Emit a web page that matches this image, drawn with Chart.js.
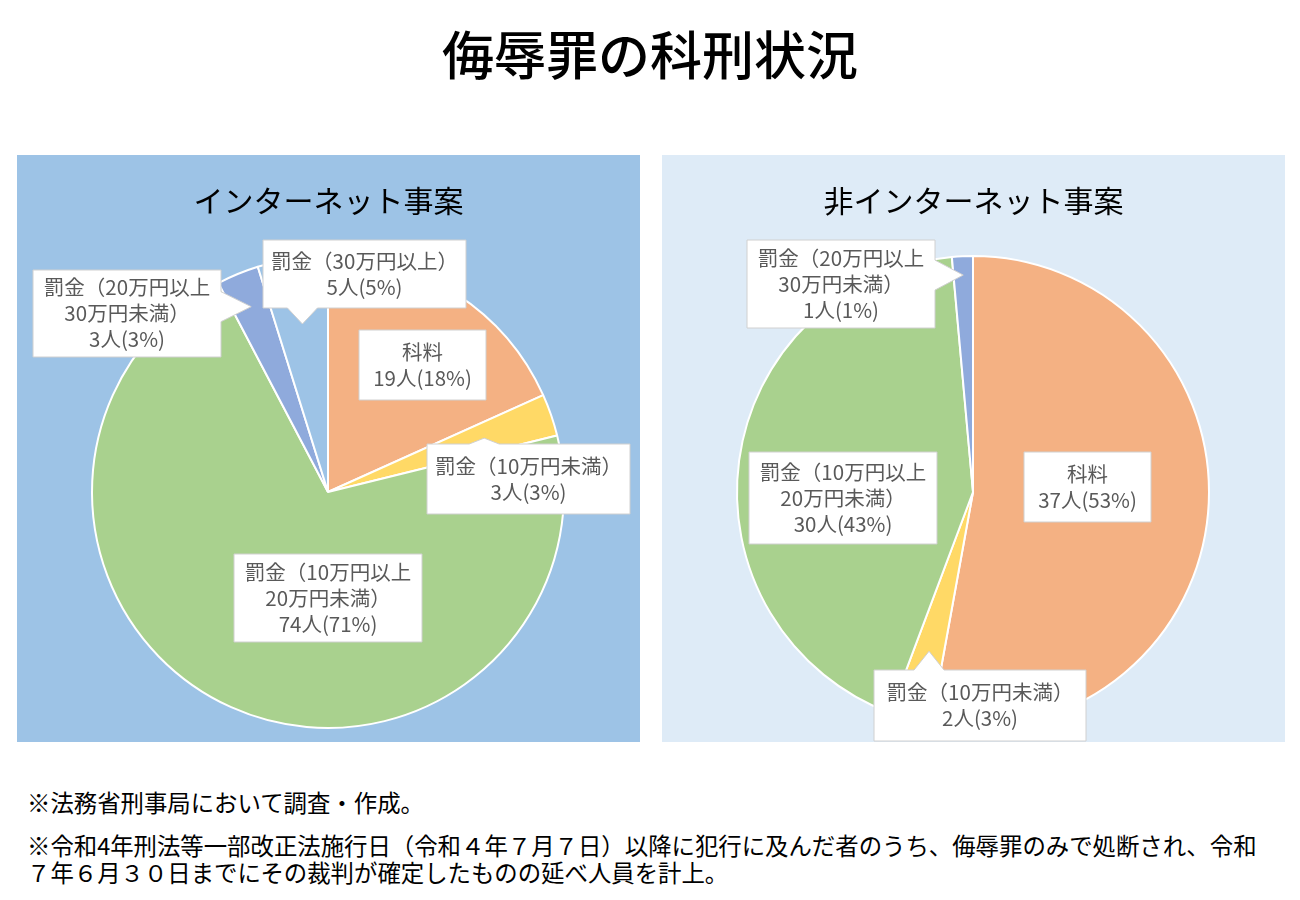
<!DOCTYPE html>
<html lang="ja">
<head>
<meta charset="utf-8">
<script src="https://cdn.jsdelivr.net/npm/chart.js@4/dist/chart.umd.min.js"></script>
<style>
  html, body { margin: 0; padding: 0; background: #fff; }
  body { width: 1300px; height: 900px; position: relative; overflow: hidden;
         font-family: "Noto Sans CJK JP", "Noto Sans", sans-serif; color: #000; }
  #title { position: absolute; left: 0; width: 1300px; top: 18px; text-align: center;
           font-size: 52px; font-weight: 500; line-height: 70px; }
  .panel { position: absolute; top: 155px; width: 623px; height: 587px; }
  #p1 { left: 17px; background: #9DC3E6; }
  #p2 { left: 662px; background: #DEEBF7; }
  .ptitle { position: absolute; left: 0; width: 623px; top: 22px; text-align: center;
            font-size: 30px; font-weight: 400; line-height: 44px; }
  .panel canvas { position: absolute; left: 0; top: 0; }
  .note { position: absolute; left: 27px; font-size: 23.4px; line-height: 27px; white-space: nowrap; font-weight: 400; }
</style>
</head>
<body>
<div id="title">侮辱罪の科刑状況</div>
<div class="panel" id="p1"><canvas id="c1" width="623" height="587"></canvas><div class="ptitle">インターネット事案</div></div>
<div class="panel" id="p2"><canvas id="c2" width="623" height="587"></canvas><div class="ptitle">非インターネット事案</div></div>
<div class="note" style="top:789px">※法務省刑事局において調査・作成。</div>
<div class="note" style="top:832px">※令和4年刑法等一部改正法施行日（令和４年７月７日）以降に犯行に及んだ者のうち、侮辱罪のみで処断され、令和<br>７年６月３０日までにその裁判が確定したものの延べ人員を計上。</div>
<script>
// ---- data ----
const categories = [
  ["科料"],
  ["罰金（10万円未満）"],
  ["罰金（10万円以上", "20万円未満）"],
  ["罰金（20万円以上", "30万円未満）"],
  ["罰金（30万円以上）"]
];
const internetCounts = [19, 3, 74, 3, 5];
const nonInternetCounts = [37, 2, 30, 1, 0];
const chartTitles = ["インターネット事案", "非インターネット事案"];
const unitLabel = "人";

// ---- styles ----
const sliceColors = ["#F4B183", "#FFD966", "#A9D18E", "#8FAADC", "#9DC3E6"];

// callout layout: box centre offset from pie centre (px), box size, pointer tip as fraction of radius
const layoutInternet = [
  { i: 4, dx: 36.5, dy: -218, w: 203, h: 68, tip: 0.72 },
  { i: 3, dx: -201, dy: -178.5, w: 188, h: 87, tip: 0.85 },
  { i: 0, dx: 94.5, dy: -127, w: 127, h: 70, tip: null },
  { i: 1, dx: 200.5, dy: -13, w: 203, h: 70, tip: 0.70 },
  { i: 2, dx: 0, dy: 106, w: 188, h: 88, tip: null }
];
const layoutNonInternet = [
  { i: 3, dx: -132, dy: -208, w: 188, h: 88, tip: 0.92 },
  { i: 2, dx: -130, dy: 6, w: 188, h: 92, tip: null },
  { i: 0, dx: 114.5, dy: -5, w: 127, h: 70, tip: null },
  { i: 1, dx: 7, dy: 213.5, w: 212, h: 71, tip: 0.70 }
];

function calloutPlugin(layout) {
  return {
    id: 'callouts',
    afterDatasetsDraw(chart) {
      const ctx = chart.ctx;
      const meta = chart.getDatasetMeta(0);
      const values = chart.data.datasets[0].data;
      const total = values.reduce((a, b) => a + b, 0);
      layout.forEach(L => {
        const arc = meta.data[L.i];
        const cx = arc.x, cy = arc.y, R = arc.outerRadius;
        const bx = cx + L.dx, by = cy + L.dy;
        const l = bx - L.w / 2, r = bx + L.w / 2, t = by - L.h / 2, b = by + L.h / 2;
        let side = null, tx = 0, ty = 0;
        const bw = 30;
        if (L.tip != null) {
          const mid = (arc.startAngle + arc.endAngle) / 2;
          tx = cx + Math.cos(mid) * R * L.tip;
          ty = cy + Math.sin(mid) * R * L.tip;
          const d = { top: t - ty, bottom: ty - b, left: l - tx, right: tx - r };
          let best = -Infinity;
          for (const k in d) { if (d[k] > best) { best = d[k]; side = k; } }
        }
        const clamp = (v, a, z) => Math.max(a + bw / 2 + 4, Math.min(z - bw / 2 - 4, v));
        ctx.save();
        ctx.beginPath();
        ctx.moveTo(l, t);
        if (side === 'top') { const c = clamp(tx, l, r); ctx.lineTo(c - bw / 2, t); ctx.lineTo(tx, ty); ctx.lineTo(c + bw / 2, t); }
        ctx.lineTo(r, t);
        if (side === 'right') { const c = clamp(ty, t, b); ctx.lineTo(r, c - bw / 2); ctx.lineTo(tx, ty); ctx.lineTo(r, c + bw / 2); }
        ctx.lineTo(r, b);
        if (side === 'bottom') { const c = clamp(tx, l, r); ctx.lineTo(c + bw / 2, b); ctx.lineTo(tx, ty); ctx.lineTo(c - bw / 2, b); }
        ctx.lineTo(l, b);
        if (side === 'left') { const c = clamp(ty, t, b); ctx.lineTo(l, c + bw / 2); ctx.lineTo(tx, ty); ctx.lineTo(l, c - bw / 2); }
        ctx.closePath();
        ctx.fillStyle = '#FFFFFF';
        ctx.fill();
        ctx.strokeStyle = '#D0D0D0';
        ctx.lineWidth = 1;
        ctx.stroke();
        const v = values[L.i];
        const pct = Math.round(v / total * 100);
        const lines = categories[L.i].concat([v + unitLabel + "(" + pct + "%)"]);
        ctx.fillStyle = '#595959';
        ctx.font = '20.5px "Noto Sans CJK JP", sans-serif';
        ctx.textAlign = 'center';
        ctx.textBaseline = 'middle';
        const lh = 26;
        const y0 = by - (lines.length - 1) * lh / 2;
        lines.forEach((s, k) => ctx.fillText(s, bx, y0 + k * lh));
        ctx.restore();
      });
    }
  };
}

function makePie(id, values, layout, title) {
  new Chart(document.getElementById(id), {
    type: 'pie',
    data: {
      labels: categories.map(c => c.join('')),
      datasets: [{
        label: title,
        data: values,
        backgroundColor: sliceColors,
        borderColor: '#FFFFFF',
        borderWidth: 2
      }]
    },
    options: {
      responsive: false,
      devicePixelRatio: 1,
      animation: false,
      radius: 236,
      layout: { padding: { left: 71, right: 72, top: 97, bottom: 10 } },
      plugins: { legend: { display: false }, tooltip: { enabled: false }, title: { display: false } }
    },
    plugins: [calloutPlugin(layout)]
  });
}

makePie('c1', internetCounts, layoutInternet, chartTitles[0]);
makePie('c2', nonInternetCounts, layoutNonInternet, chartTitles[1]);
</script>
</body>
</html>
